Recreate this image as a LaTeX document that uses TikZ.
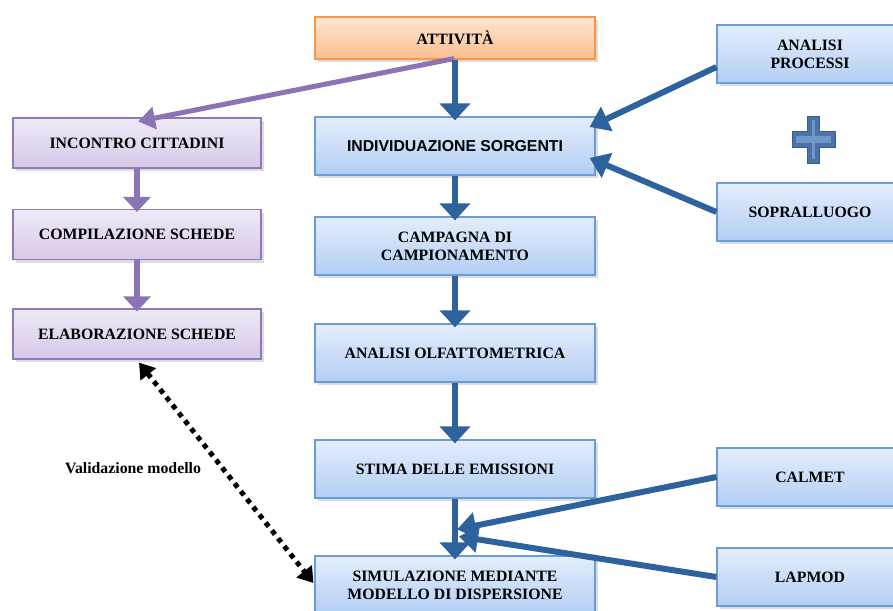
\documentclass[tikz,border=0pt]{standalone}
\usepackage{fontspec}
\setmainfont{Liberation Serif}
\newfontfamily\arialfont{Liberation Sans}
\usetikzlibrary{arrows.meta,shadows}

\definecolor{boxblueT}{HTML}{E4EEFC}
\definecolor{boxblueB}{HTML}{B2CEF4}
\definecolor{edgeblue}{HTML}{6A9BDA}
\definecolor{boxorT}{HTML}{FDE6D3}
\definecolor{boxorB}{HTML}{FBBE8E}
\definecolor{edgeor}{HTML}{F79646}
\definecolor{boxpuT}{HTML}{EFEAF6}
\definecolor{boxpuB}{HTML}{D6C8E9}
\definecolor{edgepu}{HTML}{9079B6}
\definecolor{arrowblue}{HTML}{2E629C}
\definecolor{arrowpu}{HTML}{8C73B6}
\definecolor{plusfill}{HTML}{4A74A8}
\definecolor{plusedge}{HTML}{3A5F8E}
\definecolor{plusline}{HTML}{7097CA}

\tikzset{
  basebox/.style={rectangle, line width=1.2pt, align=center, inner sep=0pt,
    font=\fontsize{15.8}{18}\selectfont\bfseries,
    drop shadow={opacity=0.28, shadow xshift=2.5pt, shadow yshift=-3pt}},
  bluebox/.style={basebox, draw=edgeblue, top color=boxblueT, bottom color=boxblueB,
    minimum width=280pt, minimum height=58pt},
  sidebox/.style={basebox, draw=edgeblue, top color=boxblueT, bottom color=boxblueB,
    minimum width=186pt, minimum height=58pt},
  orbox/.style={basebox, draw=edgeor, top color=boxorT, bottom color=boxorB,
    minimum width=280pt, minimum height=42pt},
  pubox/.style={basebox, draw=edgepu, top color=boxpuT, bottom color=boxpuB,
    minimum width=248pt, minimum height=50pt},
  flowarrow/.style={draw=arrowblue, line width=6pt,
    -{Triangle[length=17pt,width=30pt]}, shorten >=-4pt},
  feedarrow/.style={draw=arrowblue, line width=6pt,
    -{Triangle[length=19pt,width=26pt]}},
  puarrow/.style={draw=arrowpu, line width=5.5pt,
    -{Triangle[length=15pt,width=27pt]}, shorten >=-3pt},
  validarrow/.style={draw=black, line width=5pt, dash pattern=on 5pt off 5pt,
    {Triangle[length=15pt,width=19pt]}-{Triangle[length=15pt,width=19pt]}},
}

\begin{document}
\begin{tikzpicture}[x=1pt,y=-1pt]
\useasboundingbox (0,0) rectangle (893,610);
\clip (0,0) rectangle (893,610);

% main column
\node[orbox]   (att)  at (455,38)  {ATTIVITÀ};
\node[bluebox, font=\arialfont\fontsize{15.8}{18}\selectfont\bfseries]
               (ind)  at (455,146) {INDIVIDUAZIONE SORGENTI};
\node[bluebox] (camp) at (455,246) {CAMPAGNA DI\\CAMPIONAMENTO};
\node[bluebox] (olf)  at (455,353) {ANALISI OLFATTOMETRICA};
\node[bluebox] (stim) at (455,469) {STIMA DELLE EMISSIONI};
\node[bluebox] (sim)  at (455,585) {SIMULAZIONE MEDIANTE\\MODELLO DI DISPERSIONE};

% inputs on the right
\node[sidebox] (ap)  at (810,54)  {ANALISI\\PROCESSI};
\node[sidebox] (sop) at (810,212) {SOPRALLUOGO};
\node[sidebox] (cal) at (810,477) {CALMET};
\node[sidebox] (lap) at (810,577) {LAPMOD};

% citizen column on the left
\node[pubox] (inc)  at (137,143)   {INCONTRO CITTADINI};
\node[pubox] (comp) at (137,234.5) {COMPILAZIONE SCHEDE};
\node[pubox] (elab) at (137,334)   {ELABORAZIONE SCHEDE};

% plus sign between the two survey inputs
\path[fill=plusfill, draw=plusedge, line width=1pt]
  (807,116) -- (819,116) -- (819,131) -- (835,131) -- (835,147) -- (819,147)
  -- (819,163) -- (807,163) -- (807,147) -- (792,147) -- (792,131) -- (807,131) -- cycle;
\draw[plusline, line width=3pt] (813,120) -- (813,159);
\draw[plusline, line width=7pt] (796,139) -- (831,139);

% named end points
\coordinate (apout) at ([yshift=-13pt]ap.west);
\coordinate (tip1)  at ([xshift=-6pt,yshift=19pt]ind.east);
\coordinate (tip2)  at ([xshift=-6pt,yshift=-12pt]ind.east);
\coordinate (tipc)  at ([xshift=2pt,yshift=26pt]sim.north);
\coordinate (tipl)  at ([xshift=4pt,yshift=19pt]sim.north);
\coordinate (attout) at ([xshift=-1pt,yshift=1pt]att.south);
\coordinate (inctip) at ([xshift=1pt,yshift=-4pt]inc.north);
\coordinate (vtop) at ([xshift=2pt,yshift=-3pt]elab.south);
\coordinate (vbot) at ([xshift=-1pt,yshift=2pt]sim.west);

% purple branch
\draw[puarrow, line width=5pt, -{Triangle[length=17pt,width=22pt]}, shorten >=0pt]
  (attout) -- (inctip);
\draw[puarrow] (inc.south) -- (comp.north);
\draw[puarrow] (comp.south) -- (elab.north);

% main flow
\draw[flowarrow] (att.south)  -- (ind.north);
\draw[flowarrow] (ind.south)  -- (camp.north);
\draw[flowarrow] (camp.south) -- (olf.north);
\draw[flowarrow] (olf.south)  -- (stim.north);
\draw[flowarrow] (stim.south) -- (sim.north);

% side inputs
\draw[feedarrow] (apout) -- (tip1);
\draw[feedarrow] (sop.west) -- (tip2);
\draw[feedarrow] (cal.west) -- (tipc);
\draw[feedarrow] (lap.west) -- (tipl);

% model validation link
\draw[validarrow] (vtop) -- (vbot);
\node[font=\fontsize{15.8}{18}\selectfont\bfseries] (val) at (133,468) {Validazione modello};
\end{tikzpicture}
\end{document}
